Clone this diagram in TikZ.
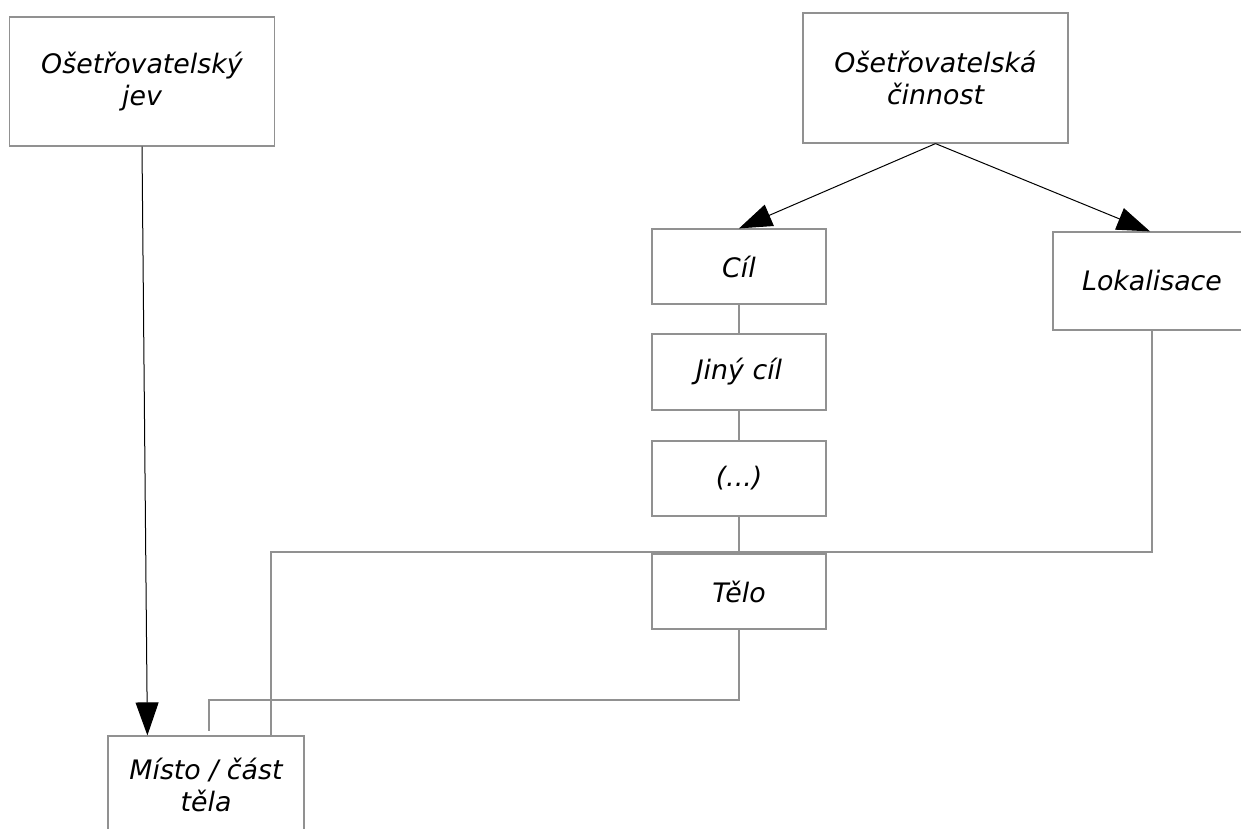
\documentclass[tikz,border=0pt]{standalone}
\usepackage{fontspec}
\setmainfont{DejaVu Sans}
\usetikzlibrary{arrows.meta,calc}
\definecolor{boxline}{RGB}{145,145,145}
\tikzset{
  concept/.style={draw=boxline, line width=0.6pt, rectangle, align=center,
    inner sep=0pt, font=\fontsize{13.4}{15.6}\selectfont\itshape},
  link/.style={draw=boxline, line width=0.6pt},
  relation/.style={draw=black, line width=0.5pt,
    -{Triangle[length=16.5pt,width=11.5pt]}}
}
\begin{document}
\begin{tikzpicture}[x=0.5pt,y=-0.5pt]
\useasboundingbox (0,0) rectangle (1241,829);

% concepts
\node[concept, minimum width=132.5pt, minimum height=64.5pt] (jev) at (142,81.5) {Ošetřovatelský\\jev};
\node[concept, minimum width=132.5pt, minimum height=65pt] (cin) at (935.5,78) {Ošetřovatelská\\činnost};
\node[concept, minimum width=87pt, minimum height=37.5pt] (cil) at (739,266.5) {Cíl};
\node[concept, minimum width=87pt, minimum height=38pt] (jiny) at (739,372) {Jiný cíl};
\node[concept, minimum width=87pt, minimum height=37.5pt] (etc) at (739,478.5) {(...)};
\node[concept, minimum width=87pt, minimum height=37.5pt] (telo) at (739,591.5) {Tělo};
\node[concept, minimum width=99pt, minimum height=49pt] (lok) at (1152,281) {Lokalisace};
\node[concept, minimum width=98pt, minimum height=49pt] (misto) at (206,785) {Místo / část\\těla};

% routing points
\coordinate (bus) at (271,552);
\coordinate (low) at (209,700);

% directed relations
\draw[relation] (jev.south) -- ($(misto.north west)+(40,0)$);
\draw[relation] (cin.south) -- (cil.north);
\draw[relation] (cin.south) -- ($(lok.north)+(-2,0)$);

% plain links
\draw[link] (cil.south) -- (jiny.north);
\draw[link] (jiny.south) -- (etc.north);
\draw[link] (etc.south) -- (telo.north);
\draw[link] (lok.south) |- (bus) -- (bus |- misto.north);
\draw[link] (telo.south) |- (low) -- ($(low |- misto.north)+(0,-4)$);
\end{tikzpicture}
\end{document}
